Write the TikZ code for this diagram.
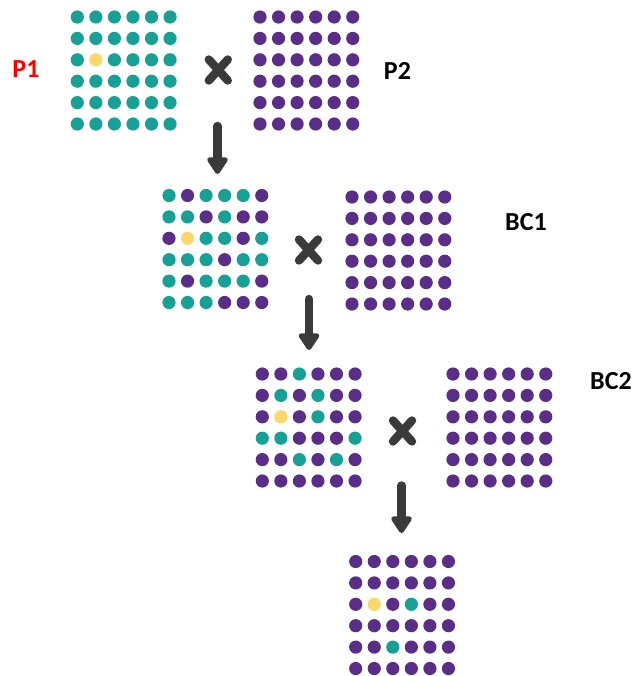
\documentclass[tikz,border=0pt]{standalone}
\usepackage{fontspec}
\setmainfont{Carlito}
\usetikzlibrary{arrows.meta}
\definecolor{teal}{HTML}{17A096}
\definecolor{plum}{HTML}{5A2D88}
\definecolor{gold}{HTML}{FCD769}
\definecolor{ink}{HTML}{3A3A3A}
\tikzset{
  dotT/.style={fill=teal},
  dotP/.style={fill=plum},
  dotY/.style={fill=gold},
  cross/.style={draw=ink, line width=6.3, line cap=round},
  flow/.style={draw=ink, line width=6.3, line cap=round,
    -{Triangle[width=17.5,length=14, round]}},
  lbl/.style={font=\fontsize{19.5pt}{22pt}\selectfont\bfseries, inner sep=0pt},
}
% 6x6 grid of dots; #1 = top-left dot centre, #2 = rows of colour letters
\newcommand\dotgrid[2]{%
  \begin{scope}[shift={#1}]
    \foreach \row [count=\j from 0] in {#2} {
      \foreach \c [count=\i from 0] in \row {
        \fill[dot\c] ({\i*18.55},{\j*21.4}) circle (6.6);
      }
    }
  \end{scope}}
\newcommand\crossmark[1]{%
  \draw[cross] ($(#1)+(-9.5,-10.5)$) -- ($(#1)+(9.5,10.5)$);
  \draw[cross] ($(#1)+(-9.5,10.5)$) -- ($(#1)+(9.5,-10.5)$);}
\usetikzlibrary{calc}
\begin{document}
\begin{tikzpicture}[x=0.75pt, y=-0.75pt]
  \useasboundingbox (0,0) rectangle (636,676);

  % parents
  \dotgrid{(77.3,17)}{{T,T,T,T,T,T},{T,T,T,T,T,T},{T,Y,T,T,T,T},{T,T,T,T,T,T},{T,T,T,T,T,T},{T,T,T,T,T,T}}
  \dotgrid{(260,17)}{{P,P,P,P,P,P},{P,P,P,P,P,P},{P,P,P,P,P,P},{P,P,P,P,P,P},{P,P,P,P,P,P},{P,P,P,P,P,P}}

  % first backcross
  \dotgrid{(169,195.5)}{{T,P,T,T,T,P},{T,T,P,T,P,P},{P,Y,T,T,P,T},{T,T,T,P,T,T},{T,P,T,T,T,P},{T,T,T,P,P,P}}
  \dotgrid{(352,197)}{{P,P,P,P,P,P},{P,P,P,P,P,P},{P,P,P,P,P,P},{P,P,P,P,P,P},{P,P,P,P,P,P},{P,P,P,P,P,P}}

  % second backcross
  \dotgrid{(262.3,374)}{{P,P,T,P,P,P},{P,T,P,T,P,P},{P,Y,P,T,P,P},{T,T,P,P,P,T},{P,P,T,P,T,P},{P,P,P,P,P,P}}
  \dotgrid{(453,374)}{{P,P,P,P,P,P},{P,P,P,P,P,P},{P,P,P,P,P,P},{P,P,P,P,P,P},{P,P,P,P,P,P},{P,P,P,P,P,P}}

  % offspring
  \dotgrid{(355.7,561.5)}{{P,P,P,P,P,P},{P,P,P,P,P,P},{P,Y,P,T,P,P},{P,P,P,P,P,P},{P,P,T,P,P,P},{P,P,P,P,P,P}}

  % labels
  \node[lbl, text=red] (p1) at (26,69.5) {P1};
  \node[lbl] (p2) at (397.5,71) {P2};
  \node[lbl] (bc1) at (526,222) {BC1};
  \node[lbl] (bc2) at (611,381.5) {BC2};

  % crosses
  \coordinate (x1) at (218.3,70);
  \coordinate (x2) at (308.5,250);
  \coordinate (x3) at (402.5,431);
  \crossmark{x1}
  \crossmark{x2}
  \crossmark{x3}

  % arrows between generations
  \coordinate (a1s) at (217.5,126);
  \coordinate (a1e) at (217.5,174);
  \coordinate (a2s) at (309,299);
  \coordinate (a2e) at (309,350);
  \coordinate (a3s) at (401.5,485.5);
  \coordinate (a3e) at (401.5,533);
  \draw[flow] (a1s) -- (a1e);
  \draw[flow] (a2s) -- (a2e);
  \draw[flow] (a3s) -- (a3e);
\end{tikzpicture}
\end{document}
